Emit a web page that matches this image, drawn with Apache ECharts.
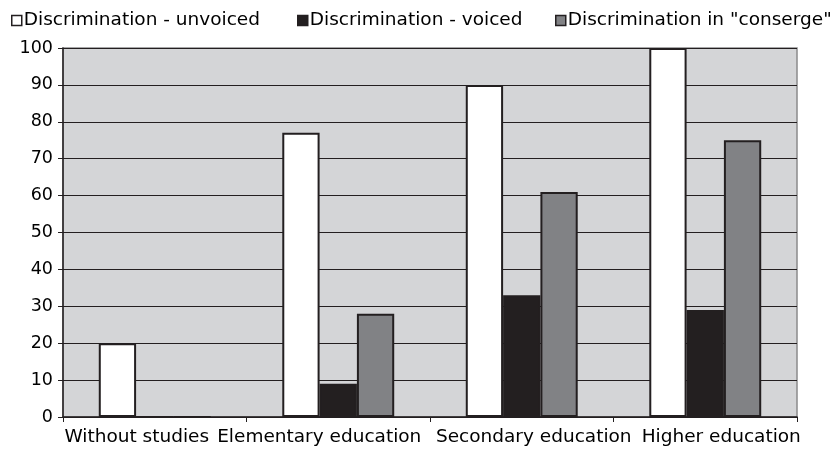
<!DOCTYPE html>
<html>
<head>
<meta charset="utf-8">
<script src="https://cdn.jsdelivr.net/npm/echarts@6/dist/echarts.min.js"></script>
<style>
  html, body { margin: 0; padding: 0; background: #ffffff; }
  #chart { width: 835px; height: 449px; }
</style>
</head>
<body>
<div id="chart"></div>
<script>
// Education levels along the x axis
const categories = ['Without studies', 'Elementary education', 'Secondary education', 'Higher education'];

// Series names and values
const seriesNames = ['Discrimination - unvoiced', 'Discrimination - voiced', 'Discrimination in "conserge"'];
const unvoiced = [20, 77, 90, 100];
const voiced = [0, 9, 33, 29];
const conserge = [0, 28, 61, 75];

// Y axis range
const yMin = 0;
const yMax = 100;
const yStep = 10;

const FONT = 'DejaVu Sans';
const INK = '#231f20';
const FILLS = ['#ffffff', INK, '#818285'];
const LEGEND_LEFT = [11, 297, 555];
// Horizontal nudge of each category label so the long names do not collide
const LABEL_SHIFT = [-18, -19, 12, 16];

const chart = echarts.init(document.getElementById('chart'), null, { renderer: 'canvas' });

function barSeries(name, values, fill) {
  return {
    name: name,
    type: 'bar',
    data: values,
    barGap: '0%',
    barCategoryGap: '39%',
    itemStyle: { color: fill, borderColor: INK, borderWidth: 2 },
    emphasis: { disabled: true }
  };
}

// One legend block per series so each entry sits at its own place
const legends = seriesNames.map((n, i) => ({
  top: 11,
  left: LEGEND_LEFT[i],
  padding: 0,
  icon: 'rect',
  itemWidth: 10,
  itemHeight: 10,
  selectedMode: false,
  textStyle: { fontFamily: FONT, fontSize: 18.5, color: '#000', padding: [0, 0, 0, -3] },
  data: [{ name: n, itemStyle: { color: FILLS[i], borderColor: INK, borderWidth: 1.5 } }]
}));

// Rich styles that shift a label by padding one side
const labelRich = {};
LABEL_SHIFT.forEach((s, i) => {
  labelRich['c' + i] = {
    fontFamily: FONT, fontSize: 18.5, color: '#000',
    padding: s < 0 ? [0, -2 * s, 0, 0] : [0, 0, 0, 2 * s]
  };
});

chart.setOption({
  animation: false,
  textStyle: { fontFamily: FONT },
  legend: legends,
  grid: {
    left: 63, right: 38, top: 48, bottom: 32,
    show: true,
    backgroundColor: '#d4d5d7',
    borderColor: '#8a8a8c',
    borderWidth: 1.5
  },
  xAxis: {
    type: 'category',
    data: categories,
    axisLine: { lineStyle: { color: INK, width: 1.5 } },
    axisTick: { show: true, alignWithLabel: false, interval: 0, length: 5, lineStyle: { color: INK } },
    axisLabel: {
      fontFamily: FONT, fontSize: 18.5, color: '#000', margin: 11, interval: 0,
      formatter: (v, i) => '{c' + i + '|' + v + '}',
      rich: labelRich
    },
    splitLine: { show: false }
  },
  yAxis: {
    type: 'value',
    min: yMin,
    max: yMax,
    interval: yStep,
    axisLine: { show: true, lineStyle: { color: INK, width: 1.5 } },
    axisTick: { show: true, length: 5, lineStyle: { color: INK } },
    axisLabel: { fontFamily: FONT, fontSize: 17.5, color: '#000', margin: 10 },
    splitLine: { show: true, lineStyle: { color: INK, width: 1.2 } }
  },
  series: [
    barSeries(seriesNames[0], unvoiced, FILLS[0]),
    barSeries(seriesNames[1], voiced, FILLS[1]),
    barSeries(seriesNames[2], conserge, FILLS[2])
  ]
});
</script>
</body>
</html>
